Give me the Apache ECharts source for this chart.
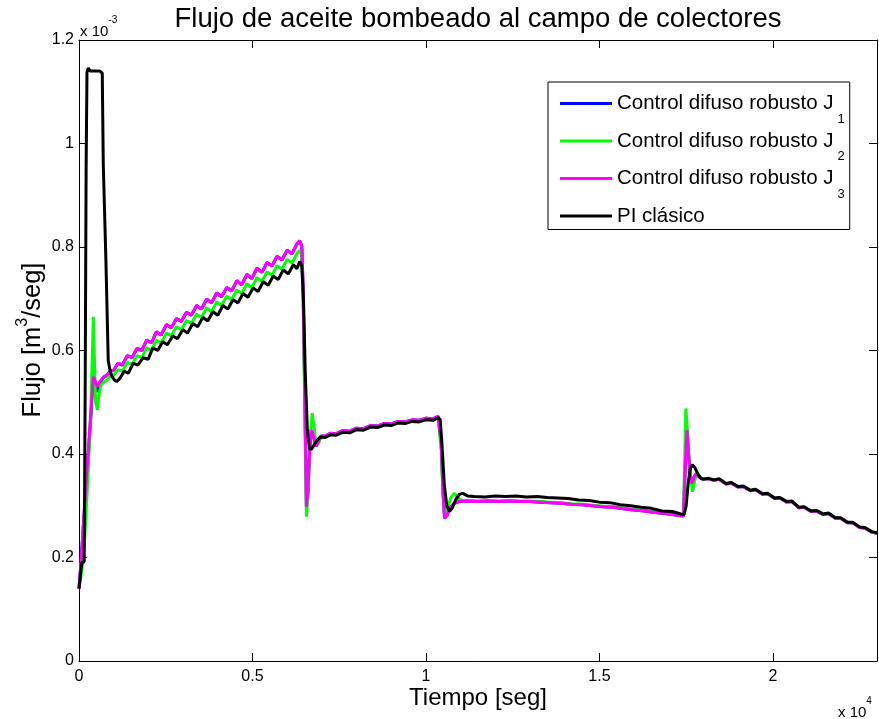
<!DOCTYPE html>
<html><head><meta charset="utf-8">
<script src="https://cdn.jsdelivr.net/npm/echarts@6/dist/echarts.min.js"></script>
<style>html,body{margin:0;padding:0;background:#fff}#c{width:879px;height:719px}</style>
</head><body><div id="c"></div>
<script>
// ---- Data (time in s, flow in 1e-3 m^3/s as shown on axis with "x 10^-3") ----
const seriesNames = ['Control difuso robusto J1','Control difuso robusto J2','Control difuso robusto J3','PI clásico'];
const seriesColors = ['#0000ff','#00ff00','#ff00ff','#000000'];
const xTicks = [0, 5000, 10000, 15000, 20000];
const yTicks = [0, 0.2, 0.4, 0.6, 0.8, 1.0, 1.2];

const j1Points = [[0,0.140],[49,0.182],[150,0.285],[250,0.38],[350,0.48],[412,0.56],[480,0.530],[547,0.520],[604,0.536],[700,0.548],[800,0.552],[900,0.560],[1000,0.562],[1120,0.575],[1250,0.572],[1390,0.590],[1530,0.586],[1670,0.604],[1810,0.600],[1950,0.620],[2090,0.615],[2230,0.636],[2370,0.630],[2520,0.650],[2660,0.644],[2810,0.662],[2950,0.656],[3100,0.674],[3240,0.668],[3390,0.687],[3530,0.680],[3680,0.699],[3820,0.692],[3970,0.711],[4110,0.704],[4260,0.722],[4400,0.715],[4550,0.735],[4690,0.727],[4840,0.747],[4980,0.739],[5130,0.759],[5270,0.751],[5420,0.770],[5560,0.763],[5710,0.782],[5850,0.775],[6000,0.794],[6140,0.787],[6280,0.806],[6360,0.812],[6420,0.802],[6460,0.72],[6500,0.55],[6555,0.298],[6600,0.33],[6650,0.41],[6700,0.446],[6760,0.434],[6830,0.415],[6900,0.424],[6980,0.435],[7100,0.435],[7250,0.440],[7400,0.439],[7600,0.445],[7800,0.444],[8000,0.450],[8200,0.449],[8400,0.455],[8600,0.454],[8800,0.459],[9000,0.458],[9200,0.463],[9400,0.462],[9600,0.466],[9800,0.465],[10000,0.469],[10200,0.468],[10350,0.473],[10400,0.470],[10440,0.42],[10490,0.33],[10536,0.276],[10600,0.281],[10700,0.296],[10800,0.304],[10950,0.308],[11200,0.309],[11500,0.308],[11800,0.309],[12100,0.308],[12400,0.309],[12700,0.308],[13000,0.308],[13300,0.307],[13600,0.306],[13900,0.305],[14200,0.303],[14500,0.302],[14800,0.300],[15100,0.298],[15400,0.297],[15700,0.294],[16000,0.292],[16300,0.290],[16600,0.287],[16900,0.285],[17200,0.282],[17420,0.280],[17470,0.37],[17522,0.446],[17570,0.40],[17620,0.355],[17666,0.343],[17730,0.356],[17790,0.362],[17870,0.356],[17950,0.352],[18000,0.350],[18150,0.352],[18300,0.349],[18450,0.351],[18650,0.342],[18800,0.344],[19000,0.336],[19150,0.337],[19350,0.329],[19500,0.331],[19700,0.322],[19850,0.323],[20050,0.314],[20200,0.315],[20400,0.307],[20550,0.308],[20750,0.296],[20900,0.297],[21100,0.289],[21250,0.290],[21450,0.283],[21600,0.285],[21800,0.276],[21950,0.276],[22150,0.267],[22300,0.267],[22500,0.258],[22650,0.257],[22850,0.249],[23000,0.247]];

const j2Points = [[0,0.140],[50,0.160],[100,0.185],[150,0.22],[239,0.33],[300,0.42],[340,0.48],[380,0.58],[412,0.665],[445,0.58],[480,0.50],[527,0.485],[570,0.510],[625,0.532],[700,0.538],[800,0.542],[900,0.550],[1000,0.552],[1120,0.563],[1250,0.560],[1390,0.577],[1530,0.573],[1670,0.590],[1810,0.586],[1950,0.605],[2090,0.600],[2230,0.620],[2370,0.614],[2520,0.634],[2660,0.628],[2810,0.646],[2950,0.640],[3100,0.658],[3240,0.652],[3390,0.670],[3530,0.664],[3680,0.682],[3820,0.675],[3970,0.694],[4110,0.687],[4260,0.705],[4400,0.698],[4550,0.717],[4690,0.710],[4840,0.729],[4980,0.721],[5130,0.741],[5270,0.733],[5420,0.752],[5560,0.745],[5710,0.764],[5850,0.757],[6000,0.776],[6140,0.769],[6280,0.787],[6360,0.793],[6420,0.785],[6460,0.70],[6500,0.52],[6555,0.279],[6600,0.32],[6660,0.43],[6720,0.479],[6770,0.455],[6830,0.420],[6890,0.418],[6960,0.430],[7100,0.434],[7250,0.439],[7400,0.438],[7600,0.444],[7800,0.443],[8000,0.449],[8200,0.448],[8400,0.454],[8600,0.453],[8800,0.458],[9000,0.457],[9200,0.462],[9400,0.461],[9600,0.465],[9800,0.464],[10000,0.468],[10200,0.467],[10350,0.472],[10400,0.469],[10440,0.41],[10490,0.32],[10540,0.280],[10620,0.295],[10720,0.316],[10824,0.324],[10920,0.315],[11050,0.310],[11200,0.310],[11500,0.309],[11800,0.310],[12100,0.309],[12400,0.310],[12700,0.309],[13000,0.309],[13300,0.308],[13600,0.307],[13900,0.306],[14200,0.304],[14500,0.303],[14800,0.301],[15100,0.299],[15400,0.298],[15700,0.295],[16000,0.293],[16300,0.291],[16600,0.288],[16900,0.286],[17200,0.283],[17420,0.281],[17460,0.40],[17490,0.488],[17540,0.44],[17600,0.37],[17683,0.327],[17750,0.350],[17818,0.363],[17890,0.357],[17960,0.352],[18000,0.351],[18150,0.352],[18300,0.349],[18450,0.351],[18650,0.342],[18800,0.344],[19000,0.336],[19150,0.337],[19350,0.329],[19500,0.331],[19700,0.322],[19850,0.323],[20050,0.314],[20200,0.315],[20400,0.307],[20550,0.308],[20750,0.296],[20900,0.297],[21100,0.289],[21250,0.290],[21450,0.283],[21600,0.285],[21800,0.276],[21950,0.276],[22150,0.267],[22300,0.267],[22500,0.258],[22650,0.257],[22850,0.249],[23000,0.247]];

const j3Points = [[0,0.140],[49,0.182],[150,0.29],[250,0.39],[350,0.49],[412,0.549],[470,0.540],[527,0.530],[604,0.540],[700,0.548],[800,0.552],[900,0.560],[1000,0.562],[1120,0.575],[1250,0.572],[1390,0.590],[1530,0.586],[1670,0.604],[1810,0.600],[1950,0.620],[2090,0.615],[2230,0.636],[2370,0.630],[2520,0.650],[2660,0.644],[2810,0.662],[2950,0.656],[3100,0.674],[3240,0.668],[3390,0.687],[3530,0.680],[3680,0.699],[3820,0.692],[3970,0.711],[4110,0.704],[4260,0.722],[4400,0.715],[4550,0.735],[4690,0.727],[4840,0.747],[4980,0.739],[5130,0.759],[5270,0.751],[5420,0.770],[5560,0.763],[5710,0.782],[5850,0.775],[6000,0.794],[6140,0.787],[6280,0.806],[6360,0.812],[6420,0.802],[6460,0.72],[6500,0.55],[6555,0.298],[6600,0.33],[6650,0.41],[6700,0.446],[6760,0.434],[6830,0.415],[6900,0.424],[6980,0.435],[7100,0.435],[7250,0.440],[7400,0.439],[7600,0.445],[7800,0.444],[8000,0.450],[8200,0.449],[8400,0.455],[8600,0.454],[8800,0.459],[9000,0.458],[9200,0.463],[9400,0.462],[9600,0.466],[9800,0.465],[10000,0.469],[10200,0.468],[10350,0.473],[10400,0.470],[10440,0.42],[10490,0.33],[10536,0.276],[10600,0.281],[10700,0.296],[10800,0.304],[10950,0.308],[11200,0.309],[11500,0.308],[11800,0.309],[12100,0.308],[12400,0.309],[12700,0.308],[13000,0.308],[13300,0.307],[13600,0.306],[13900,0.305],[14200,0.303],[14500,0.302],[14800,0.300],[15100,0.298],[15400,0.297],[15700,0.294],[16000,0.292],[16300,0.290],[16600,0.287],[16900,0.285],[17200,0.282],[17420,0.280],[17470,0.37],[17522,0.446],[17570,0.40],[17620,0.355],[17666,0.343],[17730,0.356],[17790,0.362],[17870,0.356],[17950,0.352],[18000,0.350],[18150,0.352],[18300,0.349],[18450,0.351],[18650,0.342],[18800,0.344],[19000,0.336],[19150,0.337],[19350,0.329],[19500,0.331],[19700,0.322],[19850,0.323],[20050,0.314],[20200,0.315],[20400,0.307],[20550,0.308],[20750,0.296],[20900,0.297],[21100,0.289],[21250,0.290],[21450,0.283],[21600,0.285],[21800,0.276],[21950,0.276],[22150,0.267],[22300,0.267],[22500,0.258],[22650,0.257],[22850,0.249],[23000,0.247]];

const piPoints = [[0,0.140],[40,0.165],[80,0.190],[150,0.192],[180,0.55],[205,0.95],[230,1.138],[270,1.146],[320,1.140],[450,1.140],[600,1.140],[670,1.136],[700,0.96],[777,0.77],[843,0.58],[900,0.560],[950,0.550],[1020,0.543],[1085,0.540],[1180,0.546],[1300,0.560],[1420,0.556],[1560,0.575],[1700,0.572],[1850,0.586],[1990,0.583],[2130,0.605],[2270,0.600],[2410,0.617],[2550,0.611],[2700,0.628],[2840,0.623],[2990,0.640],[3130,0.634],[3280,0.652],[3420,0.646],[3570,0.664],[3710,0.657],[3860,0.675],[4000,0.668],[4150,0.687],[4290,0.680],[4440,0.698],[4580,0.692],[4730,0.710],[4870,0.703],[5020,0.721],[5160,0.714],[5310,0.733],[5450,0.726],[5600,0.744],[5740,0.737],[5890,0.756],[6030,0.748],[6180,0.766],[6280,0.758],[6360,0.772],[6420,0.764],[6470,0.70],[6520,0.56],[6580,0.45],[6640,0.410],[6700,0.409],[6780,0.418],[6870,0.427],[6960,0.433],[7100,0.432],[7250,0.437],[7400,0.436],[7600,0.442],[7800,0.441],[8000,0.447],[8200,0.446],[8400,0.452],[8600,0.451],[8800,0.456],[9000,0.455],[9200,0.460],[9400,0.459],[9600,0.463],[9800,0.462],[10000,0.466],[10200,0.465],[10350,0.470],[10410,0.467],[10460,0.42],[10530,0.34],[10600,0.300],[10680,0.289],[10760,0.296],[10860,0.312],[10960,0.322],[11060,0.324],[11200,0.319],[11400,0.318],[11700,0.317],[12000,0.319],[12300,0.318],[12600,0.319],[12900,0.317],[13200,0.318],[13500,0.316],[13800,0.315],[14100,0.314],[14400,0.311],[14700,0.310],[15000,0.307],[15300,0.306],[15600,0.302],[15900,0.300],[16200,0.297],[16500,0.295],[16800,0.290],[17100,0.289],[17350,0.284],[17440,0.283],[17500,0.30],[17560,0.345],[17620,0.372],[17680,0.379],[17750,0.374],[17830,0.362],[17920,0.353],[18000,0.351],[18150,0.353],[18300,0.350],[18450,0.352],[18650,0.343],[18800,0.345],[19000,0.337],[19150,0.338],[19350,0.330],[19500,0.332],[19700,0.323],[19850,0.324],[20050,0.315],[20200,0.316],[20400,0.308],[20550,0.309],[20750,0.297],[20900,0.298],[21100,0.290],[21250,0.291],[21450,0.284],[21600,0.286],[21800,0.277],[21950,0.277],[22150,0.268],[22300,0.268],[22500,0.259],[22650,0.258],[22850,0.250],[23000,0.248]];

// ---- Chart ----
const FONT = "'Liberation Sans', Arial, Helvetica, sans-serif";
const allPoints = [j1Points, j2Points, j3Points, piPoints];
const chart = echarts.init(document.getElementById('c'), null, {renderer: 'canvas'});

const axisCommon = {
  type: 'value',
  axisLine: {show: true, onZero: false, lineStyle: {color: '#000', width: 1}},
  axisTick: {show: true, inside: true, length: 8, lineStyle: {color: '#000', width: 1}},
  splitLine: {show: false}
};

const option = {
  animation: false,
  backgroundColor: '#fff',
  grid: {left: 79, right: 2, top: 40, bottom: 58, containLabel: false},
  xAxis: [
    Object.assign({}, axisCommon, {
      position: 'bottom', min: 0, max: 23000, interval: 5000,
      axisLabel: {show: true, margin: 8, color: '#000', fontSize: 16, fontFamily: FONT,
        showMaxLabel: false,
        formatter: v => xTicks.indexOf(v) >= 0 ? String(v / 10000) : ''}
    }),
    Object.assign({}, axisCommon, {
      position: 'top', min: 0, max: 23000, interval: 5000, axisLabel: {show: false}
    })
  ],
  yAxis: [
    Object.assign({}, axisCommon, {
      position: 'left', min: 0, max: 1.2, interval: 0.2,
      axisLabel: {show: true, margin: 5, color: '#000', fontSize: 16, fontFamily: FONT,
        formatter: v => String(+v.toFixed(1))}
    }),
    Object.assign({}, axisCommon, {
      position: 'right', min: 0, max: 1.2, interval: 0.2, axisLabel: {show: false}
    })
  ],
  legend: {
    orient: 'vertical', left: 548, top: 82,
    itemWidth: 52, itemHeight: 3, itemGap: 5, icon: 'rect',
    padding: [11, 5, 3, 12],
    borderColor: '#000', borderWidth: 1, backgroundColor: '#fff',
    data: seriesNames,
    formatter: function (name) {
      const i = seriesNames.indexOf(name);
      if (i < 3) return '{t|Control difuso robusto J}{s|' + (i + 1) + '}';
      return '{p|' + name + '}';
    },
    textStyle: {
      color: '#000', fontFamily: FONT,
      rich: {
        t: {fontSize: 20.5, lineHeight: 44, verticalAlign: 'middle', color: '#000', fontFamily: FONT},
        s: {fontSize: 13, lineHeight: 14, verticalAlign: 'bottom', padding: [0, 0, 0, 4], color: '#000', fontFamily: FONT},
        p: {fontSize: 20.5, lineHeight: 12, color: '#000', fontFamily: FONT}
      }
    }
  },
  graphic: [
    {type: 'text', x: 478, y: 19, silent: true,
      style: {text: 'Flujo de aceite bombeado al campo de colectores', fontSize: 27.5, fontFamily: FONT,
        fill: '#000', align: 'center', verticalAlign: 'middle'}},
    {type: 'text', x: 478, y: 698, silent: true,
      style: {text: 'Tiempo [seg]', fontSize: 24, fontFamily: FONT, fill: '#000',
        align: 'center', verticalAlign: 'middle'}},
    {type: 'text', x: 30, y: 340, rotation: Math.PI / 2, silent: true,
      style: {text: '{n|Flujo [m}{s|3}{n|/seg]}', fill: '#000', align: 'center', verticalAlign: 'middle',
        rich: {
          n: {fontSize: 25.5, lineHeight: 31, verticalAlign: 'bottom', fontFamily: FONT, fill: '#000'},
          s: {fontSize: 16, lineHeight: 14, verticalAlign: 'top', fontFamily: FONT, fill: '#000'}
        }}},
    {type: 'text', x: 80, y: 27, silent: true,
      style: {text: '{b|x 10}{s|-3}', fill: '#000', align: 'left', verticalAlign: 'middle',
        rich: {
          b: {fontSize: 15, lineHeight: 24, verticalAlign: 'bottom', fontFamily: FONT, fill: '#000'},
          s: {fontSize: 10, lineHeight: 10, verticalAlign: 'top', fontFamily: FONT, fill: '#000'}
        }}},
    {type: 'text', x: 838, y: 708, silent: true,
      style: {text: '{b|x 10}{s|4}', fill: '#000', align: 'left', verticalAlign: 'middle',
        rich: {
          b: {fontSize: 15, lineHeight: 24, verticalAlign: 'bottom', fontFamily: FONT, fill: '#000'},
          s: {fontSize: 10, lineHeight: 10, verticalAlign: 'top', fontFamily: FONT, fill: '#000'}
        }}}
  ],
  series: seriesNames.map((name, i) => ({
    name: name,
    type: 'line',
    xAxisIndex: 0, yAxisIndex: 0,
    data: allPoints[i].map(p => [p[0], p[1]]),
    showSymbol: false, symbol: 'none',
    color: seriesColors[i],
    lineStyle: {color: seriesColors[i], width: 3},
    emphasis: {disabled: true},
    z: 2 + i
  }))
};
chart.setOption(option);
</script></body></html>
